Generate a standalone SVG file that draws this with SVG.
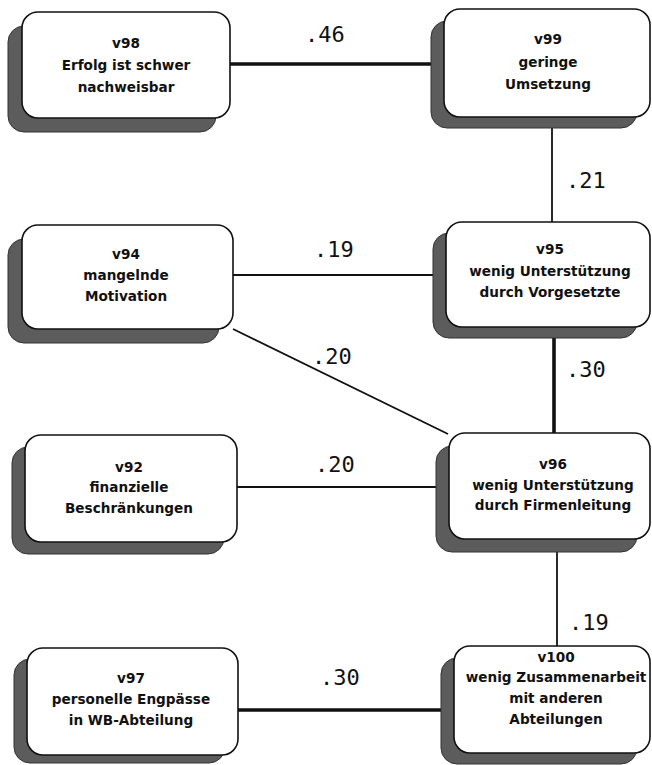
<svg xmlns="http://www.w3.org/2000/svg" width="652" height="765" viewBox="0 0 652 765">
<defs>
<style>
.bg{fill:#ffffff}
.shadow{fill:#5c5c5c;stroke:#333333;stroke-width:1}
.box{fill:#ffffff;stroke:#111111;stroke-width:1.6}
.t{font-family:"DejaVu Sans","Liberation Sans",sans-serif;font-weight:bold;font-size:13.6px;fill:#111111;text-anchor:middle}
.lbl{font-family:"DejaVu Sans Mono","Liberation Mono",monospace;font-size:22px;fill:#111111}
.c{stroke:#111111;fill:none}
.thin{stroke-width:1.8}
.thick{stroke-width:3.6}
</style>
</defs>
<rect class="bg" x="0" y="0" width="652" height="765"/>
<g id="connectors">
<line class="c thick" x1="230" y1="64" x2="434" y2="64"/>
<line class="c thin" x1="552" y1="117" x2="552" y2="222"/>
<line class="c thin" x1="233" y1="275" x2="434" y2="275"/>
<line class="c thin" x1="233" y1="329" x2="448" y2="434"/>
<line class="c thick" x1="554" y1="327" x2="554" y2="433"/>
<line class="c thin" x1="237" y1="487" x2="437" y2="487"/>
<line class="c thin" x1="557" y1="539" x2="557" y2="646"/>
<line class="c thick" x1="238" y1="710" x2="442" y2="710"/>
</g>
<g id="labels">
<text class="lbl" x="305" y="42">.46</text>
<text class="lbl" x="566" y="188">.21</text>
<text class="lbl" x="314" y="257">.19</text>
<text class="lbl" x="312" y="364">.20</text>
<text class="lbl" x="566" y="377">.30</text>
<text class="lbl" x="315" y="472">.20</text>
<text class="lbl" x="569" y="630">.19</text>
<text class="lbl" x="320" y="685">.30</text>
</g>
<g id="v98">
<rect class="shadow" x="8" y="26" width="208" height="106" rx="16"/>
<rect class="box" x="22" y="12" width="208" height="106" rx="16"/>
<text class="t" x="126" y="48">v98</text>
<text class="t" x="126" y="70">Erfolg ist schwer</text>
<text class="t" x="126" y="92">nachweisbar</text>
</g>
<g id="v99">
<rect class="shadow" x="431" y="21" width="206" height="107" rx="16"/>
<rect class="box" x="444" y="9" width="206" height="108" rx="16"/>
<text class="t" x="548" y="44">v99</text>
<text class="t" x="548" y="67">geringe</text>
<text class="t" x="548" y="89">Umsetzung</text>
</g>
<g id="v94">
<rect class="shadow" x="8" y="239" width="211" height="104" rx="16"/>
<rect class="box" x="22" y="225" width="211" height="104" rx="16"/>
<text class="t" x="126" y="259">v94</text>
<text class="t" x="126" y="280">mangelnde</text>
<text class="t" x="126" y="301">Motivation</text>
</g>
<g id="v95">
<rect class="shadow" x="433" y="233" width="204" height="105" rx="16"/>
<rect class="box" x="446" y="222" width="204" height="105" rx="16"/>
<text class="t" x="550" y="254">v95</text>
<text class="t" x="550" y="276">wenig Unterstützung</text>
<text class="t" x="550" y="297">durch Vorgesetzte</text>
</g>
<g id="v92">
<rect class="shadow" x="12" y="447" width="212" height="107" rx="16"/>
<rect class="box" x="25" y="435" width="212" height="107" rx="16"/>
<text class="t" x="129" y="472">v92</text>
<text class="t" x="129" y="492">finanzielle</text>
<text class="t" x="129" y="513">Beschränkungen</text>
</g>
<g id="v96">
<rect class="shadow" x="436" y="446" width="201" height="106" rx="16"/>
<rect class="box" x="449" y="433" width="201" height="106" rx="16"/>
<text class="t" x="553" y="469">v96</text>
<text class="t" x="553" y="490">wenig Unterstützung</text>
<text class="t" x="553" y="510">durch Firmenleitung</text>
</g>
<g id="v97">
<rect class="shadow" x="14" y="659" width="211" height="104" rx="16"/>
<rect class="box" x="27" y="648" width="211" height="107" rx="16"/>
<text class="t" x="131" y="683">v97</text>
<text class="t" x="131" y="704">personelle Engpässe</text>
<text class="t" x="131" y="725">in WB-Abteilung</text>
</g>
<g id="v100">
<rect class="shadow" x="441" y="658" width="196" height="106" rx="16"/>
<rect class="box" x="454" y="646" width="196" height="107" rx="16"/>
<text class="t" x="556" y="662">v100</text>
<text class="t" x="556" y="682">wenig Zusammenarbeit</text>
<text class="t" x="556" y="703">mit anderen</text>
<text class="t" x="556" y="724">Abteilungen</text>
</g>
</svg>
